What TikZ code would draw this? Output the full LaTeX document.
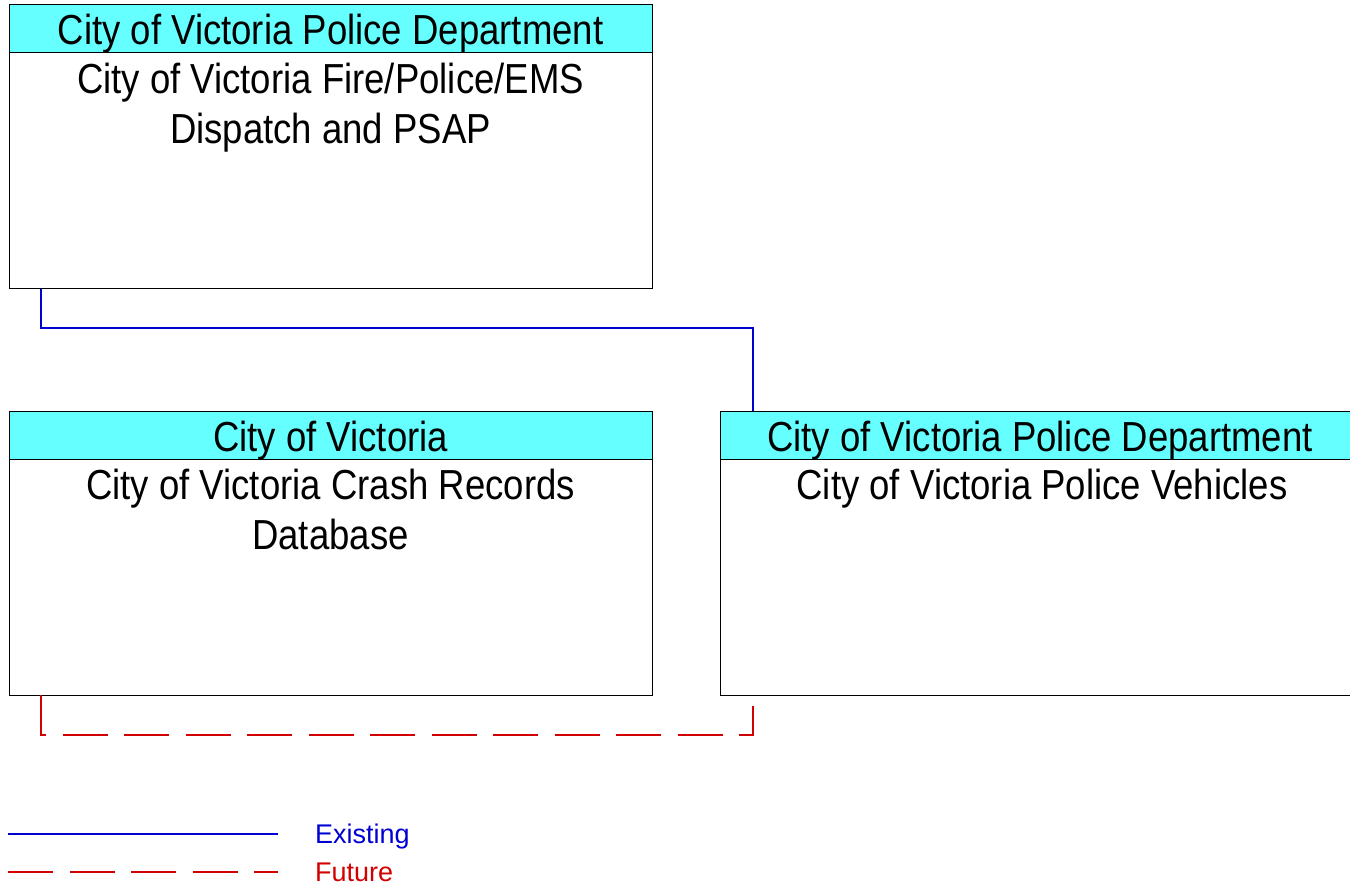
\documentclass[tikz,border=0pt]{standalone}
\usepackage{fontspec}
\setmainfont{Liberation Sans}
\newfontfamily\narrowfont[FakeStretch=0.87]{Liberation Sans}
\definecolor{hdrcyan}{RGB}{102,255,255}
\definecolor{exblue}{RGB}{0,0,210}
\definecolor{futred}{RGB}{210,0,0}
\begin{document}
\begin{tikzpicture}[x=1pt,y=-1pt,
  boxbody/.style={draw=black,line width=1pt,fill=white,anchor=north west,inner sep=0,outer sep=0},
  boxhdr/.style={draw=black,line width=1pt,fill=hdrcyan,anchor=north west,inner sep=0,outer sep=0,minimum height=48pt,text height=40pt,text depth=8pt,font=\narrowfont\fontsize{42}{50}\selectfont},
  boxtxt/.style={anchor=north,inner sep=0,align=center,font=\narrowfont\fontsize{42}{50}\selectfont},
  existing/.style={draw=exblue,line width=1.1pt},
  future/.style={draw=futred,line width=1.1pt,dash pattern=on 45pt off 16.5pt},
  legtxt/.style={anchor=base west,inner sep=0,font=\fontsize{27}{32}\selectfont}]
\useasboundingbox (0,0) rectangle (1350,885);
% top box
\node[boxbody,minimum width=643pt,minimum height=284pt] (b1) at (9,5) {};
\node[boxhdr,minimum width=643pt] (h1) at (9,5) {City of Victoria Police Department};
\node[boxtxt] (t1) at (330.5,62.5) {City of Victoria Fire/Police/EMS\\Dispatch and PSAP};
% bottom left box
\node[boxbody,minimum width=643pt,minimum height=284pt] (b2) at (9,411) {};
\node[boxhdr,minimum width=643pt] (h2) at (9,411) {City of Victoria};
\node[boxtxt] (t2) at (330.5,468.5) {City of Victoria Crash Records\\Database};
% right box
\node[boxbody,minimum width=640pt,minimum height=284pt] (b3) at (720,411) {};
\node[boxhdr,minimum width=640pt] (h3) at (720,411) {City of Victoria Police Department};
\node[boxtxt] (t3) at (1042,468.5) {City of Victoria Police Vehicles};
% connector end points
\coordinate (e1) at (41,289);
\coordinate (e2) at (41,328);
\coordinate (e3) at (753,328);
\coordinate (e4) at (753,411);
\coordinate (f0) at (41,695);
\coordinate (f2) at (41,735);
\coordinate (f3) at (753,735);
\coordinate (f1) at (753,706);
\draw[existing] (e1) -- (e2) -- (e3) -- (e4);
\draw[future] (f0) -- (f2) -- (f3) -- (f1);
% legend
\coordinate (l1a) at (8,834);
\coordinate (l1b) at (278,834);
\coordinate (l2a) at (8,872);
\coordinate (l2b) at (278,872);
\draw[existing] (l1a) -- (l1b);
\draw[future] (l2a) -- (l2b);
\node[legtxt,text=exblue] (le) at (315,843) {Existing};
\node[legtxt,text=futred] (lf) at (315,881) {Future};
\end{tikzpicture}
\end{document}
